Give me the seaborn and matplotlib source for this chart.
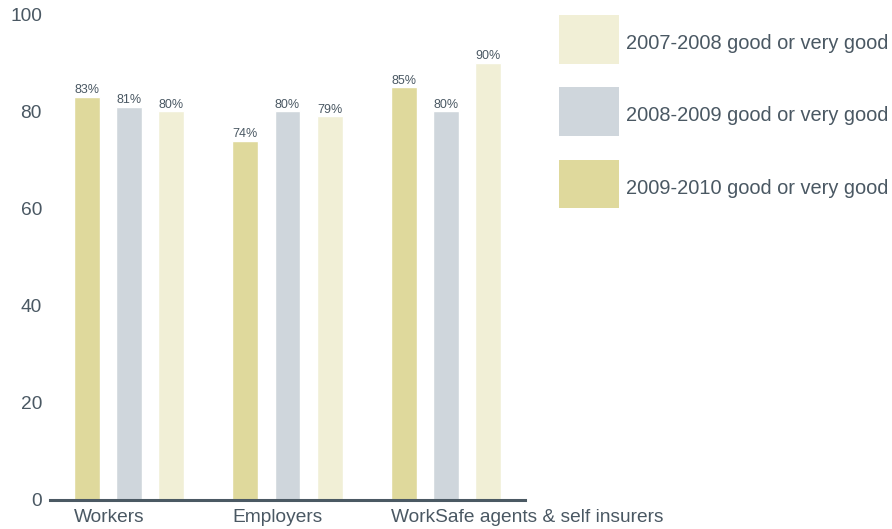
import matplotlib
matplotlib.use("Agg")
import matplotlib.pyplot as plt
from matplotlib.patches import Patch, Rectangle
from matplotlib.legend_handler import HandlerPatch
import pandas as pd
import seaborn as sns

# Survey results: share rating the service "good or very good" (%)
groups = ["Workers", "Employers", "WorkSafe agents & self insurers"]
periods = [
    "2009-2010 good or very good",
    "2008-2009 good or very good",
    "2007-2008 good or very good",
]
values_2009_2010 = [83, 74, 85]
values_2008_2009 = [81, 80, 80]
values_2007_2008 = [80, 79, 90]
y_ticks = [0, 20, 40, 60, 80, 100]

colors = {
    periods[0]: "#dfd99c",
    periods[1]: "#cfd6dc",
    periods[2]: "#f1efd6",
}
text_color = "#4a5863"

series = [values_2009_2010, values_2008_2009, values_2007_2008]
df = pd.DataFrame(
    [
        {"group": g, "period": p, "value": v}
        for p, vals in zip(periods, series)
        for g, v in zip(groups, vals)
    ]
)

sns.set_theme(style="white")
plt.rcParams["font.family"] = ["Liberation Sans", "DejaVu Sans"]

fig = plt.figure(figsize=(8.92, 5.29), dpi=100)
ax = fig.add_axes([50 / 892, 29.5 / 529, 475 / 892, 485 / 529])

sns.barplot(
    data=df, x="group", y="value", hue="period",
    order=groups, hue_order=periods, palette=colors,
    width=0.8, gap=0.385, saturation=1, legend=False, ax=ax,
)

for container, vals in zip(ax.containers, series):
    ax.bar_label(container, labels=[f"{v}%" for v in vals],
                 padding=0.5, fontsize=9, color=text_color)

ax.set_ylim(0, 100)
ax.set_xlim(-0.5, 2.5)
ax.set_yticks(y_ticks, labels=[str(t) for t in y_ticks])

# Category names start at the left edge of each group's first bar
first_edges = [p.get_x() for p in ax.containers[0].patches]
ax.set_xticks(first_edges, labels=groups, ha="left")

ax.set_xlabel("")
ax.set_ylabel("")
ax.tick_params(axis="x", length=0, pad=7, labelsize=13.8, labelcolor=text_color)
ax.tick_params(axis="y", length=0, pad=5.8, labelsize=13.8, labelcolor=text_color)

for side in ("top", "right", "left"):
    ax.spines[side].set_visible(False)
ax.spines["bottom"].set_color("#4b5963")
ax.spines["bottom"].set_linewidth(2.2)
ax.grid(False)


# Large legend swatches, raised a little so the label sits near their middle
SWATCH_LIFT = 2.9


def swatch(legend, orig_handle, xdescent, ydescent, width, height, fontsize):
    return Rectangle((-xdescent, -ydescent + SWATCH_LIFT), width, height)


handles = [Patch(facecolor=colors[p], edgecolor="none", label=p) for p in periods[::-1]]
fig.legend(
    handles=handles, loc="upper left",
    bbox_to_anchor=(559 / 892, 1 - 19 / 529),
    frameon=False, borderpad=0, borderaxespad=0,
    fontsize=14.4, labelcolor=text_color,
    handlelength=3.0, handleheight=3.37,
    labelspacing=1.18, handletextpad=0.375,
    handler_map={Patch: HandlerPatch(patch_func=swatch)},
)

fig.savefig("out.png", dpi=100)
